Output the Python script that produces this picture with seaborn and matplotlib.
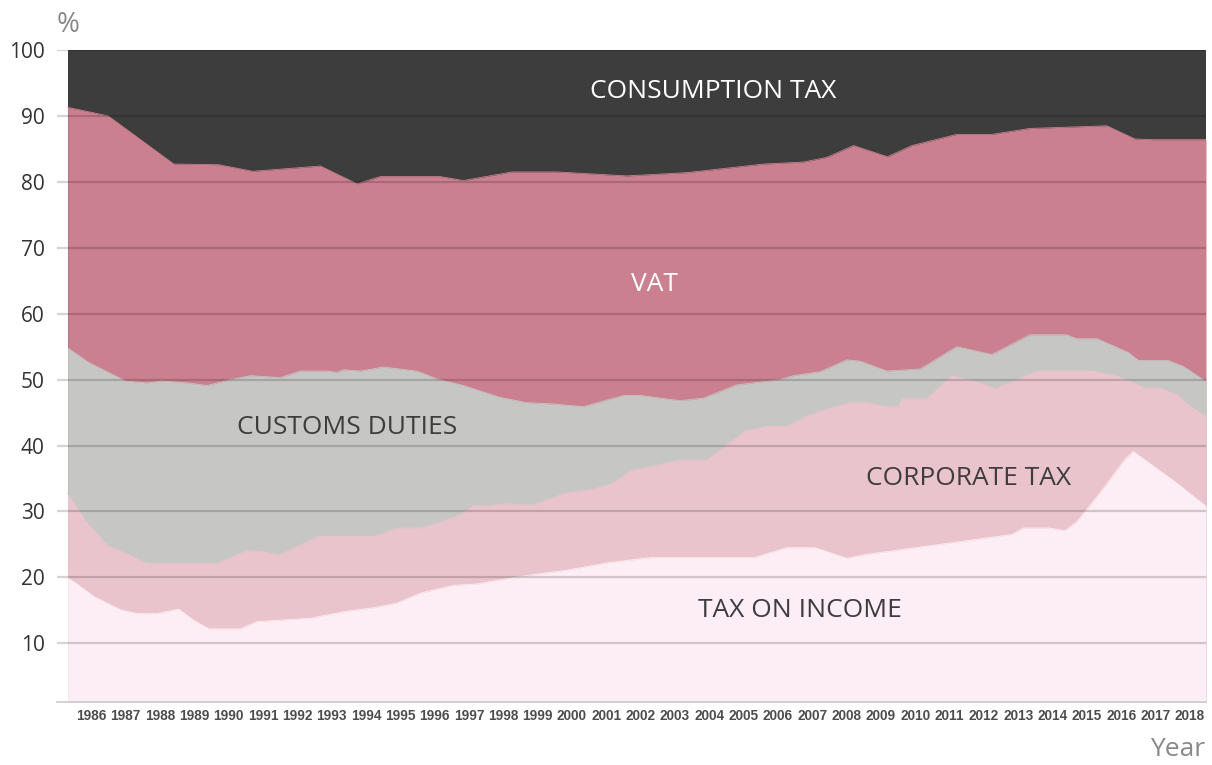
import numpy as np
import pandas as pd
import matplotlib
matplotlib.use("Agg")
import matplotlib.pyplot as plt
import seaborn as sns

# Cumulative shares (%): top edge of each layer
income_years = [1985.31, 1985.53, 1986.07, 1986.84, 1987.33, 1987.91, 1988.54, 1988.98, 1989.42,
                1990.34, 1990.83, 1992.38, 1993.35, 1994.22, 1994.90, 1995.58, 1996.55, 1997.23,
                1998.20, 1998.98, 1999.85, 2001.02, 2002.28, 2005.29, 2006.26, 2007.08, 2008.01,
                2008.59, 2012.81, 2013.15, 2013.88, 2014.36, 2014.70, 2015.38, 2016.11, 2016.35,
                2017.62, 2018.00, 2018.47]
income_top = [19.9, 19.2, 17.1, 15.1, 14.5, 14.5, 15.2, 13.5, 12.2,
              12.2, 13.3, 13.8, 14.8, 15.4, 16.1, 17.6, 18.8, 19.0,
              19.9, 20.5, 21.1, 22.2, 23.0, 23.0, 24.5, 24.5, 22.9,
              23.5, 26.5, 27.5, 27.5, 27.1, 28.4, 32.8, 37.9, 39.1,
              34.3, 32.7, 30.8]

corporate_years = [1985.31, 1985.87, 1986.50, 1987.04, 1987.62, 1989.66, 1990.48, 1990.92, 1991.45,
                   1992.62, 1994.27, 1994.90, 1995.58, 1996.07, 1996.75, 1997.13, 1997.52, 1998.11,
                   1998.49, 1998.88, 1999.75, 2000.63, 2001.21, 2001.70, 2002.37, 2003.15, 2003.93,
                   2004.61, 2005.09, 2005.67, 2006.26, 2006.74, 2007.23, 2008.10, 2008.59, 2009.17,
                   2009.51, 2009.61, 2010.34, 2011.06, 2011.79, 2012.32, 2012.96, 2013.54, 2015.19,
                   2015.96, 2016.69, 2017.13, 2017.66, 2017.95, 2018.47]
corporate_top = [32.7, 28.3, 24.7, 23.6, 22.1, 22.1, 24.0, 24.0, 23.4,
                 26.2, 26.2, 27.5, 27.5, 28.2, 29.5, 30.9, 30.8, 31.2,
                 31.0, 31.0, 32.7, 33.4, 34.3, 36.2, 36.9, 37.8, 37.8,
                 40.5, 42.3, 42.9, 42.9, 44.2, 45.2, 46.5, 46.5, 45.9,
                 45.9, 47.1, 47.1, 50.6, 49.7, 48.6, 50.0, 51.3, 51.3,
                 50.4, 48.7, 48.7, 47.6, 46.2, 44.4]

customs_years = [1985.31, 1985.92, 1986.99, 1987.62, 1988.06, 1988.79, 1989.37, 1990.05, 1990.63,
                 1991.50, 1992.09, 1992.86, 1993.16, 1993.35, 1993.83, 1994.51, 1995.48, 1996.07,
                 1996.84, 1997.91, 1998.69, 1999.46, 2000.33, 2001.50, 2001.99, 2003.15, 2003.83,
                 2004.80, 2006.06, 2006.45, 2007.23, 2007.71, 2008.01, 2008.39, 2009.17, 2010.14,
                 2011.21, 2012.23, 2013.34, 2014.41, 2014.70, 2015.29, 2016.21, 2016.50, 2017.37,
                 2017.81, 2018.47]
customs_top = [54.8, 52.6, 49.8, 49.5, 49.8, 49.5, 49.1, 50.0, 50.6,
               50.3, 51.3, 51.3, 51.1, 51.5, 51.3, 51.9, 51.3, 50.1,
               49.1, 47.3, 46.5, 46.3, 45.9, 47.6, 47.6, 46.8, 47.2,
               49.2, 50.0, 50.6, 51.2, 52.3, 53.0, 52.8, 51.3, 51.6,
               55.0, 53.8, 56.8, 56.8, 56.2, 56.2, 54.1, 52.9, 52.9,
               52.0, 49.7]

vat_years = [1985.31, 1986.49, 1988.40, 1989.71, 1990.70, 1992.67, 1993.74, 1994.42, 1996.16,
             1996.84, 1998.25, 1999.56, 2001.60, 2003.35, 2005.58, 2006.74, 2007.42, 2008.20,
             2009.19, 2009.90, 2011.21, 2012.23, 2013.34, 2015.58, 2016.40, 2016.93, 2018.47]
vat_top = [91.3, 90.0, 82.7, 82.6, 81.6, 82.4, 79.7, 80.8, 80.8,
           80.2, 81.5, 81.5, 80.9, 81.4, 82.7, 83.0, 83.7, 85.5,
           83.8, 85.5, 87.2, 87.2, 88.1, 88.5, 86.5, 86.4, 86.4]

consumption_years = [1985.31, 2018.47]
consumption_top = [100, 100]

year_ticks = list(range(1986, 2019))
pct_ticks = list(range(10, 101, 10))

layers = [
    ("CONSUMPTION TAX", consumption_years, consumption_top, "#3d3d3d"),
    ("VAT", vat_years, vat_top, "#cb808f"),
    ("CUSTOMS DUTIES", customs_years, customs_top, "#c6c6c4"),
    ("CORPORATE TAX", corporate_years, corporate_top, "#eac4cc"),
    ("TAX ON INCOME", income_years, income_top, "#fdedf4"),
]

sns.set_style("white")
plt.rcParams["font.family"] = ["Open Sans", "DejaVu Sans"]

fig = plt.figure(figsize=(12.12, 7.65), dpi=100)
ax = fig.add_axes([57 / 1212, 1 - 702 / 765, (1206 - 57) / 1212, (702 - 50) / 765])

y0 = 1.1
for name, xs, ys, col in layers:
    df = pd.DataFrame({"year": xs, "share": ys})
    sns.lineplot(data=df, x="year", y="share", ax=ax, color=col, linewidth=0.6, zorder=1)
    ax.fill_between(df["year"], y0, df["share"], color=col, linewidth=0, zorder=1)

# grid lines on top of the areas
for v in pct_ticks:
    ax.axhline(v, color="black", alpha=0.17, linewidth=1.6, zorder=3)

ax.set_xlim(1985.0, 2018.47)
ax.set_ylim(y0, 100)
ax.set_yticks(pct_ticks)
ax.set_yticklabels([str(v) for v in pct_ticks], fontsize=15, color="#333333")
ax.set_xticks(year_ticks)
ax.set_xticklabels([str(y) for y in year_ticks], fontsize=9.8, fontweight="bold",
                   color="#4d4d4d", family=["Liberation Sans", "DejaVu Sans"])
ax.tick_params(axis="y", length=0, pad=9)
ax.tick_params(axis="x", length=0, pad=5)
ax.set_xlabel("")
ax.set_ylabel("")
for side in ["left", "top", "right"]:
    ax.spines[side].set_visible(False)
ax.spines["bottom"].set_color("#cccccc")
ax.spines["bottom"].set_linewidth(1.2)
ax.spines["bottom"].set_zorder(4)

ax.text(2004.11, 93.7, "CONSUMPTION TAX", fontsize=19, color="white", ha="center", va="center", zorder=5)
ax.text(2002.39, 64.4, "VAT", fontsize=19, color="white", ha="center", va="center", zorder=5)
ax.text(1993.45, 42.7, "CUSTOMS DUTIES", fontsize=19, color="#3d3d3d", ha="center", va="center", zorder=5)
ax.text(2011.54, 35.0, "CORPORATE TAX", fontsize=19, color="#3d3d3d", ha="center", va="center", zorder=5)
ax.text(2006.65, 15.0, "TAX ON INCOME", fontsize=19, color="#3d3d3d", ha="center", va="center", zorder=5)

fig.text(68 / 1212, 1 - 25 / 765, "%", fontsize=20, color="#888888", ha="center", va="center")
fig.text(1205 / 1212, 1 - 750 / 765, "Year", fontsize=19, color="#888888", ha="right", va="center")

fig.savefig("out.png", dpi=100)
